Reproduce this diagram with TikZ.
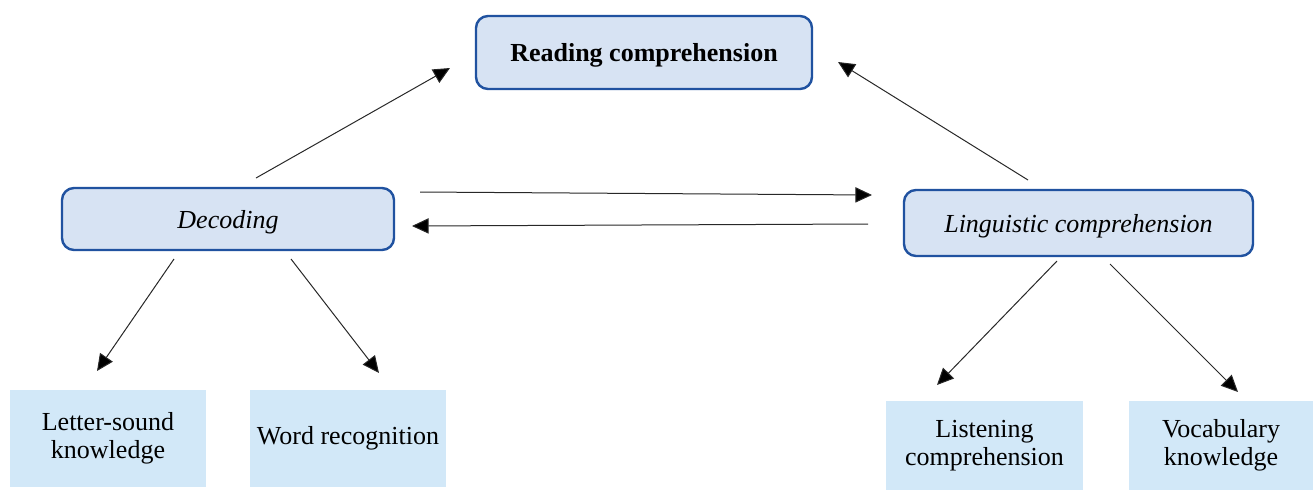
\documentclass[tikz,border=0pt]{standalone}
\usepackage{fontspec}
\setmainfont{Liberation Serif}
\usetikzlibrary{arrows.meta}
\definecolor{topfill}{RGB}{215,227,243}
\definecolor{topdraw}{RGB}{32,82,160}
\definecolor{botfill}{RGB}{210,232,248}
\tikzset{
  mainbox/.style={draw=topdraw, fill=topfill, line width=1.8pt, rounded corners=9pt, align=center, inner sep=0pt, text depth=0pt},
  leafbox/.style={fill=botfill, align=center, inner sep=0pt},
  conn/.style={line width=0.75pt, draw={rgb,255:red,40;green,40;blue,40}, -{Triangle[length=12.5pt,width=11.5pt,fill=black]}},
  txt/.style={font=\fontsize{19.5}{21}\selectfont}
}
\begin{document}
\begin{tikzpicture}[x=0.75pt,y=-0.75pt]
\useasboundingbox (0,0) rectangle (1313,490);
\node[mainbox, txt, minimum width={336*0.75pt}, minimum height={73*0.75pt}] (top) at (644,52.5) {\textbf{Reading comprehension}};
\node[mainbox, txt, minimum width={332*0.75pt}, minimum height={62*0.75pt}] (dec) at (228,219) {\textit{Decoding}};
\node[mainbox, txt, minimum width={349*0.75pt}, minimum height={66*0.75pt}] (lin) at (1078.5,223) {\textit{Linguistic comprehension}};
\node[leafbox, txt, minimum width={196*0.75pt}, minimum height={97*0.75pt}] (let) at (108,438.5) {Letter-sound\\knowledge};
\node[leafbox, txt, minimum width={196*0.75pt}, minimum height={97*0.75pt}] (word) at (348,438.5) {Word recognition};
\node[leafbox, txt, minimum width={197*0.75pt}, minimum height={89*0.75pt}] (lis) at (984.5,445.5) {Listening\\comprehension};
\node[leafbox, txt, minimum width={184*0.75pt}, minimum height={89*0.75pt}] (voc) at (1221,445.5) {Vocabulary\\knowledge};
% connector end points
\coordinate (a1) at (256,178); \coordinate (a2) at (450,68);
\coordinate (b1) at (1028,180); \coordinate (b2) at (838,62);
\coordinate (c1) at (420,192); \coordinate (c2) at (872,195);
\coordinate (d1) at (868,224); \coordinate (d2) at (412,226);
\coordinate (e1) at (174,259); \coordinate (e2) at (97,371);
\coordinate (f1) at (291,259); \coordinate (f2) at (379,373);
\coordinate (g1) at (1057,261); \coordinate (g2) at (937,385);
\coordinate (h1) at (1110,264); \coordinate (h2) at (1238,392);
\draw[conn] (a1) -- (a2);
\draw[conn] (b1) -- (b2);
\draw[conn] (c1) -- (c2);
\draw[conn] (d1) -- (d2);
\draw[conn] (e1) -- (e2);
\draw[conn] (f1) -- (f2);
\draw[conn] (g1) -- (g2);
\draw[conn] (h1) -- (h2);
\end{tikzpicture}
\end{document}
